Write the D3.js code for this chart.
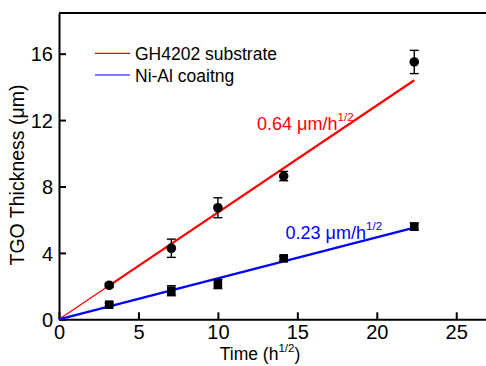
<!DOCTYPE html>
<html><head><meta charset="utf-8">
<script src="https://cdn.jsdelivr.net/npm/d3@7"></script>
<style>body{margin:0;background:#fff}svg{display:block;font-family:"Liberation Sans",Arial,sans-serif}</style>
</head><body><svg id="c" width="486" height="366"></svg>
<script>
const times = [3.16, 7.07, 10, 14.14, 22.36];
const substrate = [2.05, 4.28, 6.72, 8.63, 15.5];
const substrateErr = [0.12, 0.55, 0.6, 0.28, 0.7];
const coating = [0.88, 1.72, 2.13, 3.67, 5.58];
const coatingErr = [0.1, 0.3, 0.28, 0.13, 0.22];
const substrateFit = [[0, 0], [3.16, 2.03], [22.36, 14.4]];
const coatingFit = [[0, 0], [22.36, 5.52]];
const xTicks = [0, 5, 10, 15, 20, 25];
const yTicks = [0, 4, 8, 12, 16];
const seriesNames = ["GH4202 substrate", "Ni-Al coaitng"];
const slopeLabels = ["0.64 μm/h", "0.23 μm/h"];

const svg = d3.select("#c");
const x = d3.scaleLinear().domain([0, 27]).range([59, 488]);
const y = d3.scaleLinear().domain([0, 18.45]).range([319.3, 13]);

// frame
svg.append("line").attr("x1", 59).attr("x2", 488).attr("y1", y(18.45)).attr("y2", y(18.45))
  .attr("stroke", "#000").attr("stroke-width", 2);

const xAxis = svg.append("g").attr("transform", `translate(0,${y(0)})`)
  .call(d3.axisBottom(x).tickValues(xTicks).tickSizeInner(-7).tickSizeOuter(0).tickPadding(6).tickFormat(d3.format("d")));
const yAxis = svg.append("g").attr("transform", `translate(${x(0)},0)`)
  .call(d3.axisLeft(y).tickValues(yTicks).tickSizeInner(-7).tickSizeOuter(0).tickPadding(6).tickFormat(d3.format("d")));
[xAxis, yAxis].forEach(g => {
  g.select(".domain").attr("stroke-width", 2);
  g.selectAll(".tick line").attr("stroke-width", 2);
  g.selectAll(".tick text").attr("font-size", 20).attr("font-family", "Liberation Sans, Arial, sans-serif").attr("fill", "#000");
});
yAxis.selectAll(".tick text").attr("dy", "0.36em");

const line = d3.line().x(d => x(d[0])).y(d => y(d[1]));
// red fit: thin to first point, thicker after
svg.append("path").attr("d", line(substrateFit.slice(0, 2))).attr("stroke", "#ff0000").attr("stroke-width", 1.2).attr("fill", "none");
svg.append("path").attr("d", line(substrateFit.slice(1))).attr("stroke", "#ff0000").attr("stroke-width", 2.2).attr("fill", "none");
svg.append("path").attr("d", line(coatingFit)).attr("stroke", "#0000ff").attr("stroke-width", 2.4).attr("fill", "none");

function errBars(vals, errs) {
  const g = svg.append("g").attr("stroke", "#000").attr("stroke-width", 1.4);
  times.forEach((t, i) => {
    const cx = x(t), y1 = y(vals[i] + errs[i]), y2 = y(vals[i] - errs[i]);
    g.append("line").attr("x1", cx).attr("x2", cx).attr("y1", y1).attr("y2", y2);
    g.append("line").attr("x1", cx - 4.5).attr("x2", cx + 4.5).attr("y1", y1).attr("y2", y1);
    g.append("line").attr("x1", cx - 4.5).attr("x2", cx + 4.5).attr("y1", y2).attr("y2", y2);
  });
}
errBars(substrate, substrateErr);
errBars(coating, coatingErr);

svg.append("g").selectAll("circle").data(times).join("circle")
  .attr("cx", d => x(d)).attr("cy", (d, i) => y(substrate[i])).attr("r", 4.8).attr("fill", "#000");
svg.append("g").selectAll("rect").data(times).join("rect")
  .attr("x", d => x(d) - 4.3).attr("y", (d, i) => y(coating[i]) - 4.3).attr("width", 8.6).attr("height", 8.6).attr("fill", "#000");

// legend
const colors = ["#ff0000", "#0000ff"];
[53.3, 75].forEach((ly, i) => {
  svg.append("line").attr("x1", 95).attr("x2", 130).attr("y1", ly).attr("y2", ly).attr("stroke", colors[i]).attr("stroke-width", 1.2);
  svg.append("text").attr("x", 135).attr("y", ly + 5).attr("dy", "0.1em").attr("font-size", 17.5).attr("fill", "#000").text(seriesNames[i]);
});

// slope labels
function supText(tx, ty, main, color, size) {
  const t = svg.append("text").attr("x", tx).attr("y", ty).attr("font-size", size).attr("fill", color);
  t.append("tspan").text(main);
  t.append("tspan").attr("font-size", size * 0.65).attr("dy", -size * 0.5).text("1/2");
  return t;
}
supText(257, 130, slopeLabels[0], "#ff0000", 18);
supText(285.5, 238.5, slopeLabels[1], "#0000ff", 18);

// axis titles
const xt = svg.append("text").attr("x", 260).attr("y", 359.5).attr("text-anchor", "middle").attr("font-size", 17.5).attr("fill", "#000");
xt.append("tspan").text("Time (h");
xt.append("tspan").attr("font-size", 11.5).attr("dy", -8).text("1/2");
xt.append("tspan").attr("dy", 8).text(")");

svg.append("text").attr("transform", "translate(24,175) rotate(-90)").attr("text-anchor", "middle")
  .attr("font-size", 19.5).attr("fill", "#000").text("TGO Thickness (μm)");
</script></body></html>
